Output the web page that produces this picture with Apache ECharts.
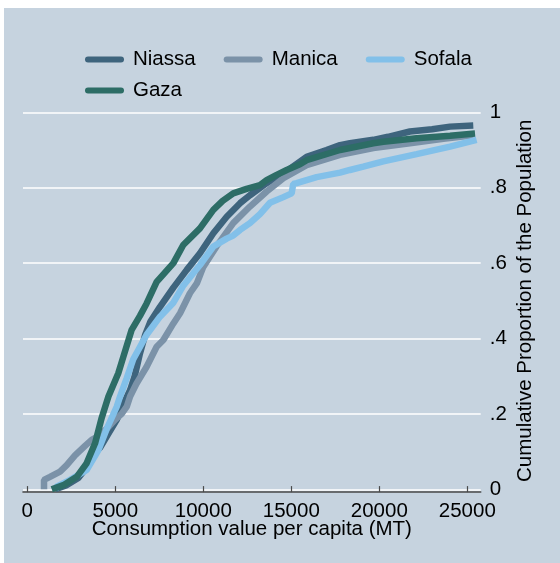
<!DOCTYPE html>
<html>
<head>
<meta charset="utf-8">
<script src="https://cdn.jsdelivr.net/npm/echarts@6/dist/echarts.min.js"></script>
<style>
  html, body { margin: 0; padding: 0; background: #ffffff; }
  #chart { position: absolute; left: 4px; top: 8px; width: 556px; height: 555px; }
</style>
</head>
<body>
<div id="chart"></div>
<script>
// Cumulative distribution of consumption per capita, by province
// Each point: [consumption value per capita (MT), cumulative proportion]
const niassa = [
  [1600, 0], [2200, 0.01], [2900, 0.03], [3400, 0.06], [3750, 0.095], [4130, 0.11],
  [4510, 0.14], [5080, 0.184], [5500, 0.23], [5840, 0.263], [6100, 0.3], [6400, 0.36],
  [6700, 0.41], [7000, 0.445], [7540, 0.484], [8300, 0.535], [9060, 0.582], [9810, 0.626],
  [10570, 0.679], [11330, 0.723], [12090, 0.759], [12650, 0.78], [13600, 0.812],
  [14550, 0.838], [15870, 0.882], [17000, 0.9], [17770, 0.913], [18330, 0.918],
  [19660, 0.927], [20500, 0.935], [21740, 0.949], [23000, 0.955], [24020, 0.962], [25340, 0.965]
];
const manica = [
  [950, 0], [950, 0.025], [1290, 0.033], [1860, 0.047], [2240, 0.064], [2710, 0.09],
  [3280, 0.115], [3660, 0.131], [4000, 0.14], [4500, 0.16], [5000, 0.185], [5360, 0.2],
  [5650, 0.219], [5840, 0.246], [6200, 0.28], [6780, 0.325], [7350, 0.378], [7730, 0.396],
  [8300, 0.44], [8680, 0.467], [9240, 0.52], [9630, 0.546], [10000, 0.59], [10760, 0.645],
  [11700, 0.706], [12650, 0.75], [13600, 0.79], [14550, 0.825], [15870, 0.86],
  [17770, 0.887], [19660, 0.905], [21740, 0.918], [23640, 0.93], [25340, 0.939]
];
const sofala = [
  [1600, 0], [1670, 0.007], [2430, 0.025], [3370, 0.051], [4040, 0.104], [4510, 0.16],
  [5080, 0.219], [5270, 0.246], [5650, 0.295], [6020, 0.345], [6780, 0.41], [7540, 0.458],
  [8300, 0.495], [8860, 0.54], [9430, 0.573], [9810, 0.595], [10570, 0.644], [11330, 0.665],
  [11700, 0.673], [12090, 0.688], [12650, 0.706], [13220, 0.73], [13790, 0.76],
  [14550, 0.775], [15020, 0.785], [15110, 0.81], [15300, 0.812], [16440, 0.828],
  [17770, 0.84], [18330, 0.847], [19090, 0.856], [20230, 0.87], [22120, 0.889],
  [24020, 0.909], [25530, 0.927]
];
const gaza = [
  [1390, 0], [2050, 0.011], [2810, 0.033], [3370, 0.069], [3850, 0.122], [4230, 0.19],
  [4610, 0.246], [5170, 0.308], [5460, 0.352], [5930, 0.423], [6400, 0.46], [6780, 0.493],
  [7350, 0.55], [8110, 0.59], [8300, 0.6], [8860, 0.648], [9810, 0.692], [10570, 0.741],
  [11100, 0.765], [11700, 0.785], [12460, 0.797], [13220, 0.807], [13600, 0.82],
  [14170, 0.834], [14740, 0.847], [15490, 0.862], [15870, 0.873], [17770, 0.9],
  [19660, 0.918], [20230, 0.922], [22120, 0.931], [24020, 0.938], [25440, 0.944]
];

const seriesNames = ['Niassa', 'Manica', 'Sofala', 'Gaza'];
const seriesData = [niassa, manica, sofala, gaza];
const seriesColors = ['#3e647d', '#7b92a8', '#82c0e9', '#2d6d66'];

const xTicks = [0, 5000, 10000, 15000, 20000, 25000];
const yTickLabels = { 0: '0', 0.2: '.2', 0.4: '.4', 0.6: '.6', 0.8: '.8', 1: '1' };

const FONT = '"Liberation Sans", Arial, Helvetica, sans-serif';
const FS = 20.5;
const bg = '#c6d3df';
const capsule = 'path://M3 0H36A3 3 0 0 1 36 6H3A3 3 0 0 1 3 0Z';

function legendBlock(names, top) {
  return {
    data: names,
    left: 81,
    top: top,
    padding: 0,
    orient: 'horizontal',
    icon: capsule,
    itemWidth: 39,
    itemHeight: 6,
    itemGap: 28,
    selectedMode: false,
    textStyle: { fontFamily: FONT, fontSize: FS, color: '#000', padding: [0, 0, 0, 4] }
  };
}

const chart = echarts.init(document.getElementById('chart'), null, { renderer: 'canvas' });
chart.setOption({
  backgroundColor: bg,
  animation: false,
  legend: [
    legendBlock(seriesNames.slice(0, 3), 41),
    legendBlock(seriesNames.slice(3), 72)
  ],
  grid: { left: 19, right: 79.3, top: 104.3, bottom: 73.7 },
  xAxis: {
    type: 'value',
    min: -244,
    max: 25762,
    offset: 2.8,
    name: 'Consumption value per capita (MT)',
    nameLocation: 'middle',
    nameGap: 27,
    nameMoveOverlap: false,
    nameTextStyle: { fontFamily: FONT, fontSize: FS, color: '#000' },
    axisLine: { show: true, onZero: false, lineStyle: { color: '#4a4a4a', width: 1.6 } },
    axisTick: { show: true, inside: true, length: 6, customValues: xTicks, lineStyle: { color: '#4a4a4a', width: 1.2 } },
    axisLabel: {
      customValues: xTicks, margin: 9,
      fontFamily: FONT, fontSize: FS, color: '#000',
      formatter: v => String(v)
    },
    splitLine: { show: false }
  },
  yAxis: {
    type: 'value',
    position: 'right',
    min: 0,
    max: 1,
    interval: 0.2,
    name: 'Cumulative Proportion of the Population',
    nameLocation: 'middle',
    nameRotate: 90,
    nameGap: 34,
    nameMoveOverlap: false,
    nameTextStyle: { fontFamily: FONT, fontSize: FS, color: '#000' },
    axisLine: { show: false },
    axisTick: { show: false },
    axisLabel: {
      margin: 9,
      fontFamily: FONT, fontSize: FS, color: '#000',
      formatter: v => yTickLabels[Math.round(v * 10) / 10]
    },
    splitLine: { show: true, lineStyle: { color: '#ffffff', width: 1.5 } }
  },
  series: seriesNames.map((name, i) => ({
    name: name,
    type: 'line',
    data: seriesData[i],
    showSymbol: false,
    symbol: 'none',
    clip: false,
    color: seriesColors[i],
    lineStyle: { color: seriesColors[i], width: 6.5 }
  }))
});
</script>
</body>
</html>
